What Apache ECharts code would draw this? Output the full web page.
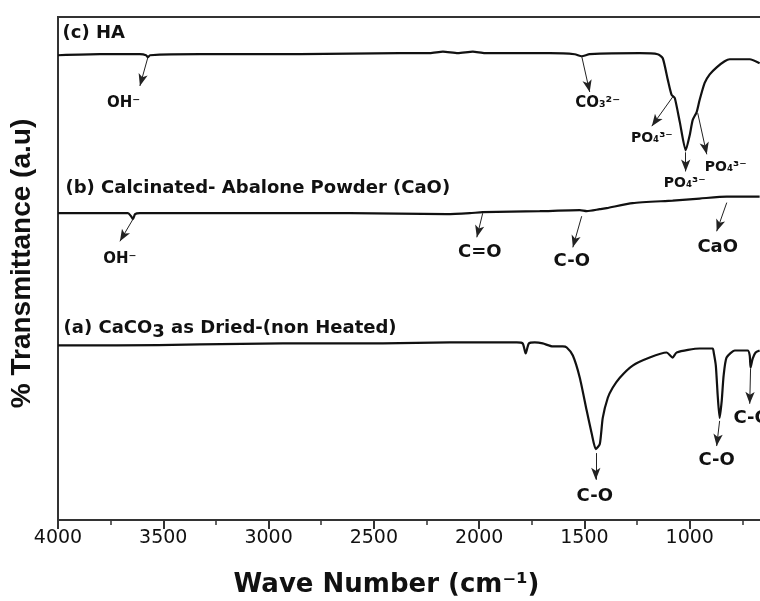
<!DOCTYPE html>
<html><head><meta charset="utf-8">
<script src="https://cdn.jsdelivr.net/npm/echarts@6/dist/echarts.min.js"></script>
<style>html,body{margin:0;padding:0;background:#fff;overflow:hidden}#c{width:795px;height:601px}</style>
</head><body><div id="c"></div>
<script>
// ---- data (wave number cm-1, transmittance a.u.) ----
const haWn = [4000,3801,3611,3582,3573,3563,3326,2851,2377,2234,2172,2101,2030,1973,1665,1546,1513,1475,1237,1152,1128,1104,1086,1071,1047,1019,1000,986,967,953,929,905,872,834,810,715,668];
const haT  = [92.4,92.6,92.6,92.4,92.0,92.4,92.6,92.6,92.8,92.8,93.1,92.8,93.1,92.8,92.8,92.6,92.2,92.6,92.8,92.6,91.8,87.5,84.5,83.9,79.1,73.5,76.5,79.5,81.1,83.5,86.9,88.6,90.0,91.2,91.6,91.6,90.8];

const caoWn = [4000,3801,3668,3653,3644,3634,3611,3089,2614,2153,2044,1983,1712,1522,1489,1427,1394,1271,1081,953,824,668];
const caoT  = [61.0,61.0,61.0,60.4,59.8,60.8,61.0,61.0,61.0,60.8,61.0,61.2,61.4,61.6,61.4,61.8,62.0,63.0,63.5,63.9,64.3,64.3];

const caco3Wn = [4000,3720,3326,2932,2457,2139,1821,1793,1779,1764,1736,1698,1650,1603,1584,1555,1522,1489,1465,1446,1427,1413,1389,1366,1332,1271,1190,1110,1081,1062,953,891,886,876,867,858,848,839,825,786,725,715,711,701,687,668];
const caco3T  = [34.7,34.7,34.9,35.1,35.1,35.3,35.3,35.1,33.1,35.1,35.3,35.1,34.5,34.5,34.3,32.7,28.3,21.7,17.1,14.1,15.1,20.3,24.3,26.3,28.3,30.7,32.3,33.3,32.3,33.3,34.1,34.1,33.3,30.7,24.7,20.3,23.7,28.7,32.3,33.7,33.7,32.7,30.3,32.1,33.3,33.7];

const xTicks = [4000,3500,3000,2500,2000,1500,1000];

// series titles
const seriesTitles = ['(c) HA', '(b) Calcinated- Abalone Powder (CaO)', '(a) CaCO{s|3} as Dried-(non Heated)'];
const titleWn = [3981, 3967, 3976];
const titleT  = [96.8, 65.9, 38.2];

// peak annotations: arrow [fromWn, fromT, toWn, toT]; label [wn, T, text]
const haArrows = [[3573,92.0,3611,86.3],[1513,92.2,1475,85.1],[1081,84.1,1180,78.3],[1019,73.1,1019,69.3],[962,80.9,919,72.7]];
const haLabels = [[3689,82.9,'OH⁻'],[1437,82.9,'CO₃²⁻'],[1180,75.9,'PO₄³⁻'],[1024,66.9,'PO₄³⁻'],[829,70.1,'PO₄³⁻']];
const caoArrows = [[3644,59.8,3706,55.4],[1983,61.0,2011,56.2],[1513,60.4,1555,54.2],[824,63.1,872,57.4]];
const caoLabels = [[3706,51.8,'OH⁻'],[1997,53.2,'C=O'],[1560,51.4,'C-O'],[867,54.2,'CaO']];
const caco3Arrows = [[1446,13.3,1446,8.0],[858,19.7,872,14.7],[711,30.1,715,23.1]];
const caco3Labels = [[1451,4.8,'C-O'],[872,11.8,'C-O'],[706,20.3,'C-O']];

// ---- build ----
const zip = (a,b) => a.map((v,i)=>[v,b[i]]);
const FONT = 'DejaVu Sans';
function marks(arrows, labels, title, tWn, tT) {
  const pts = labels.map(([w,t,txt]) => ({
    coord:[w,t], name:txt,
    label:{fontSize: txt.startsWith('PO') ? 14 : (txt.startsWith('OH') || txt.startsWith('CO₃') ? 15 : 18)}
  }));
  pts.push({coord:[tWn,tT], name:title, label:{position:'right', distance:0, fontSize:18}});
  return {
    markLine: {
      silent:true, animation:false,
      symbol:['none','arrow'], symbolSize:10,
      lineStyle:{color:'#222', width:1, type:'solid'},
      itemStyle:{color:'#111'},
      label:{show:false},
      data: arrows.map(([a,b,c,d]) => [{coord:[a,b], symbol:'none'},{coord:[c,d], symbol:'arrow', symbolSize:[7,12]}])
    },
    markPoint: {
      silent:true, animation:false, symbol:'circle', symbolSize:1,
      itemStyle:{color:'rgba(0,0,0,0)'},
      label:{show:true, position:'inside', color:'#111', fontFamily:FONT, fontWeight:'bold',
        formatter: p => p.name,
        rich:{s:{fontFamily:FONT, fontWeight:'bold', fontSize:18, color:'#111', padding:[9,0,0,0]}}},
      data: pts
    }
  };
}
function line(wn, t, m) {
  return Object.assign({
    type:'line', data: zip(wn,t), showSymbol:false, smooth:0.2, silent:true,
    lineStyle:{color:'#111', width:2.2}, itemStyle:{color:'#111'}
  }, m);
}

const chart = echarts.init(document.getElementById('c'), null, {renderer:'canvas'});
chart.setOption({
  animation:false,
  backgroundColor:'#fff',
  grid:{left:58, right:0, top:17, bottom:81, show:true, borderColor:'#333', borderWidth:2, outerBoundsMode:'none', containLabel:false},
  xAxis:{
    type:'value', inverse:true, min:500, max:4000, interval:500,
    axisLine:{lineStyle:{color:'#333', width:2}},
    axisTick:{show:true, length:9, lineStyle:{color:'#333', width:2}},
    minorTick:{show:true, splitNumber:2, length:5, lineStyle:{color:'#333', width:1.5}},
    splitLine:{show:false},
    axisLabel:{fontFamily:FONT, fontSize:19, color:'#111', margin:9,
      formatter: v => xTicks.includes(v) ? String(v) : ''},
    name:'Wave Number (cm⁻¹)', nameLocation:'middle', nameGap:52,
    nameTextStyle:{fontFamily:FONT, fontWeight:'bold', fontSize:26, color:'#111', padding:[0,80,0,0]}
  },
  yAxis:{
    type:'value', min:0, max:100,
    axisLine:{show:true, lineStyle:{color:'#333', width:2}},
    axisTick:{show:false}, axisLabel:{show:false}, splitLine:{show:false},
    name:'% Transmittance (a.u)', nameLocation:'middle', nameGap:22, nameRotate:90,
    nameTextStyle:{fontFamily:'Liberation Sans', fontWeight:'bold', fontSize:28, color:'#111', padding:[0,0,0,10]}
  },
  series:[
    line(haWn, haT, marks(haArrows, haLabels, seriesTitles[0], titleWn[0], titleT[0])),
    line(caoWn, caoT, marks(caoArrows, caoLabels, seriesTitles[1], titleWn[1], titleT[1])),
    line(caco3Wn, caco3T, marks(caco3Arrows, caco3Labels, seriesTitles[2], titleWn[2], titleT[2]))
  ]
});
</script>
</body></html>
